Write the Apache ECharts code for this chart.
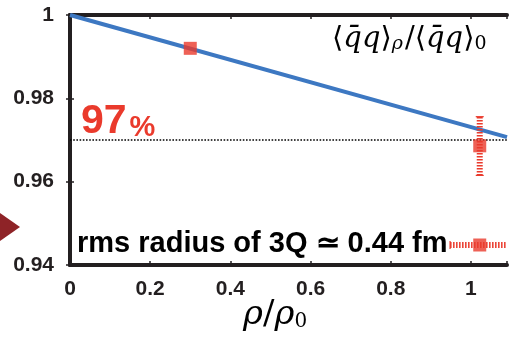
<!DOCTYPE html>
<html>
<head>
<meta charset="utf-8">
<script src="https://cdn.jsdelivr.net/npm/echarts@6/dist/echarts.min.js"></script>
<style>
  html, body { margin: 0; padding: 0; background: #fff; }
  #chart { width: 510px; height: 339px; }
</style>
</head>
<body>
<div id="chart"></div>
<script>
// Chiral condensate ratio vs. density
const xTicks = [0, 0.2, 0.4, 0.6, 0.8, 1];
const yTicks = [0.94, 0.96, 0.98, 1];

// linear density approximation of the condensate
const lineX = [0, 1.09];
const lineY = [1.0, 0.9707];

// model points: [x, y]
const pointsXY = [[0.3, 0.992], [1.022, 0.9686], [1.022, 0.9448]];

// vertical error bar: [x, low, high]
const vErr = [[1.022, 0.9615, 0.9756]];
// horizontal error bar: [y, left, right]
const hErr = [[0.9448, 0.948, 1.096]];

// reference level (97%)
const refLevel = 0.97;

const RED = '#ea3a2c';
const BLUE = '#3d78c2';
const INK = '#231f20';
const tickFont = { fontFamily: 'Liberation Sans', fontWeight: 'bold', fontSize: 21, color: INK };

function fmt(v) {
  const r = Math.round(v * 100) / 100;
  return r === 1 ? '1' : (r === 0 ? '0' : r.toFixed(r * 10 % 1 === 0 ? 1 : 2));
}

const chart = echarts.init(document.getElementById('chart'), null, { renderer: 'canvas' });

function errBarRender(params, api) {
  const x = api.value(0), lo = api.value(1), hi = api.value(2);
  const p1 = api.coord([x, lo]);
  const p2 = api.coord([x, hi]);
  const cap = 4;
  const style = { stroke: RED, lineWidth: 6, lineDash: [1.5, 1.5] };
  const capStyle = { stroke: RED, lineWidth: 1.2 };
  return {
    type: 'group',
    children: [
      { type: 'line', shape: { x1: p1[0], y1: p1[1], x2: p2[0], y2: p2[1] }, style: style },
      { type: 'line', shape: { x1: p1[0] - cap, y1: p1[1], x2: p1[0] + cap, y2: p1[1] }, style: capStyle },
      { type: 'line', shape: { x1: p2[0] - cap, y1: p2[1], x2: p2[0] + cap, y2: p2[1] }, style: capStyle }
    ]
  };
}

function hErrBarRender(params, api) {
  const y = api.value(0), l = api.value(1), r = api.value(2);
  const p1 = api.coord([l, y]);
  const p2 = api.coord([r, y]);
  const cap = 4;
  return {
    type: 'group',
    children: [
      { type: 'line', shape: { x1: p1[0], y1: p1[1], x2: p2[0], y2: p2[1] },
        style: { stroke: RED, lineWidth: 6, lineDash: [1.5, 1.5] } },
      { type: 'line', shape: { x1: p1[0], y1: p1[1] - cap, x2: p1[0], y2: p1[1] + cap },
        style: { stroke: RED, lineWidth: 1.2 } },
      { type: 'line', shape: { x1: p2[0], y1: p2[1] - cap, x2: p2[0], y2: p2[1] + cap },
        style: { stroke: RED, lineWidth: 1.2 } }
    ]
  };
}

const axisLine = { show: true, lineStyle: { color: INK, width: 4 } };
const axisTickIn = { show: true, inside: true, length: 4, lineStyle: { color: INK, width: 1.5 } };

chart.setOption({
  animation: false,
  backgroundColor: '#fff',
  grid: { left: 70, top: 15, width: 437.5, height: 250, containLabel: false },
  xAxis: [
    {
      type: 'value', min: 0, max: 1.09, interval: 0.2, position: 'bottom',
      axisLine: axisLine, axisTick: axisTickIn, splitLine: { show: false },
      axisLabel: Object.assign({ margin: 14, formatter: v => xTicks.includes(Math.round(v * 10) / 10) ? fmt(v) : '' }, tickFont)
    },
    {
      type: 'value', min: 0, max: 1.09, interval: 0.2, position: 'top',
      axisLine: axisLine, axisTick: axisTickIn, splitLine: { show: false },
      axisLabel: { show: false }
    }
  ],
  yAxis: [
    {
      type: 'value', min: 0.94, max: 1, interval: 0.02, position: 'left',
      axisLine: axisLine, axisTick: axisTickIn, splitLine: { show: false },
      axisLabel: Object.assign({ margin: 16, formatter: v => fmt(v) }, tickFont)
    },
    {
      type: 'value', min: 0.94, max: 1, interval: 0.02, position: 'right',
      axisLine: axisLine, axisTick: axisTickIn, splitLine: { show: false },
      axisLabel: { show: false }
    }
  ],
  series: [
    {
      type: 'line',
      data: [[lineX[0], refLevel], [1.09, refLevel]],
      symbol: 'none',
      lineStyle: { color: '#000', width: 1.6, type: [1.6, 1.6] },
      z: 1
    },
    {
      type: 'line',
      data: lineX.map((x, i) => [x, lineY[i]]),
      symbol: 'none',
      lineStyle: { color: BLUE, width: 4 },
      z: 2
    },
    {
      type: 'custom',
      renderItem: errBarRender,
      data: vErr,
      encode: { x: 0, y: [1, 2] },
      z: 3
    },
    {
      type: 'custom',
      renderItem: hErrBarRender,
      data: hErr,
      encode: { x: [1, 2], y: 0 },
      clip: true,
      z: 3
    },
    {
      type: 'scatter',
      data: pointsXY,
      symbol: 'rect',
      symbolSize: 13,
      itemStyle: { color: RED },
      z: 4
    }
  ],
  graphic: [
    {
      type: 'polygon',
      shape: { points: [[0, 213], [20, 227], [0, 241]] },
      style: { fill: '#8e2327' }
    },
    {
      type: 'text', left: 81, top: 101,
      style: {
        text: '{a|97}{b|%}',
        rich: {
          a: { fontFamily: 'Liberation Sans', fontWeight: 'bold', fontSize: 41, fill: RED },
          b: { fontFamily: 'Liberation Sans', fontWeight: 'bold', fontSize: 29, fill: RED, verticalAlign: 'bottom', padding: [0, 0, 0, 3] }
        }
      },
      z: 10
    },
    {
      type: 'text', left: 77, top: 229,
      style: {
        text: 'rms radius of 3Q \u2243 0.44 fm',
        fontFamily: 'Liberation Sans', fontWeight: 'bold', fontSize: 29, fill: '#000'
      },
      z: 10
    },
    {
      type: 'text', left: 332, top: 25,
      style: {
        text: '{t|\u27e8}{i|q\u0304q}{t|\u27e9}{s|\u03c1}{t|/\u27e8}{i|q\u0304q}{t|\u27e9}{n|0}',
        rich: {
          t: { fontFamily: 'DejaVu Serif', fontSize: 29, fill: '#000' },
          i: { fontFamily: 'DejaVu Serif', fontStyle: 'italic', fontSize: 29, fill: '#000' },
          s: { fontFamily: 'DejaVu Serif', fontStyle: 'italic', fontSize: 19, fill: '#000', verticalAlign: 'bottom', padding: [10, 2, 0, 0] },
          n: { fontFamily: 'DejaVu Serif', fontSize: 19, fill: '#000', verticalAlign: 'bottom', padding: [10, 0, 0, 0] }
        }
      },
      z: 10
    },
    {
      type: 'text', left: 243, top: 298,
      style: {
        text: '{r|\u03c1}{t|/}{r|\u03c1}{n|0}',
        rich: {
          r: { fontFamily: 'DejaVu Serif', fontStyle: 'italic', fontSize: 34, fill: '#000' },
          t: { fontFamily: 'DejaVu Serif', fontSize: 34, fill: '#000' },
          n: { fontFamily: 'DejaVu Serif', fontSize: 20, fill: '#000', verticalAlign: 'bottom', padding: [12, 0, 0, 0] }
        }
      },
      z: 10
    }
  ]
});
</script>
</body>
</html>
